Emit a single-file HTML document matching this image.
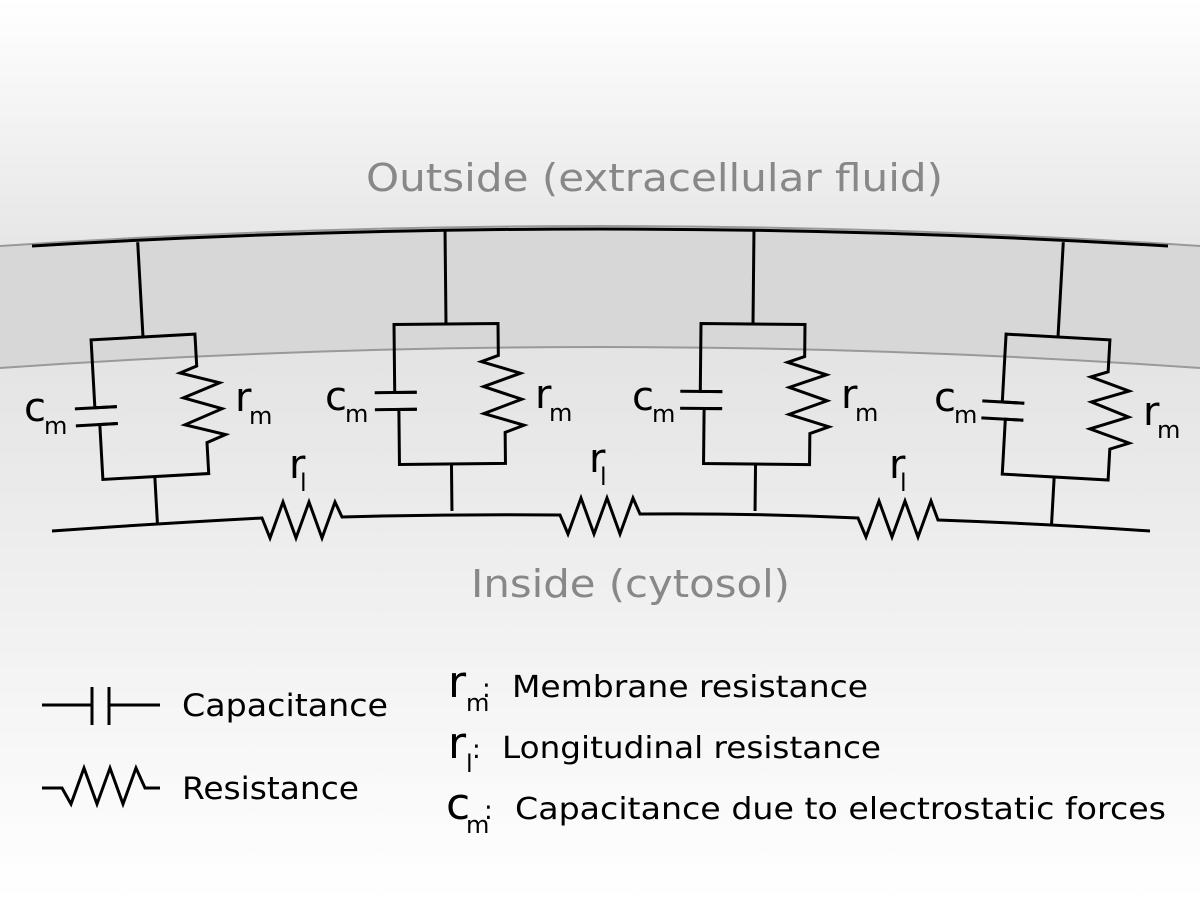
<!DOCTYPE html>
<html><head><meta charset="utf-8"><style>
html,body{margin:0;padding:0;width:1200px;height:900px;overflow:hidden;background:#fff}
svg{display:block}
text{font-family:"DejaVu Sans","Liberation Sans",sans-serif}
</style></head><body>
<svg width="1200" height="900" viewBox="0 0 1200 900" xmlns="http://www.w3.org/2000/svg">
<defs>
<linearGradient id="top" x1="0" y1="0" x2="0" y2="1">
<stop offset="0" stop-color="#ffffff"/><stop offset="1" stop-color="#e6e6e6"/></linearGradient>
<linearGradient id="bot" x1="0" y1="0" x2="0" y2="1">
<stop offset="0" stop-color="#e3e3e3"/><stop offset="1" stop-color="#ffffff"/></linearGradient>
<g id="unit" fill="none" stroke="#000" stroke-width="3" stroke-linejoin="miter">
<path d="M0 -95 L0 0"/>
<path d="M-30 68 L-52 68 L-52 0 L52 0 L52 32 L35 38 L74 50 L37 63 L75 76 L37 90 L77 102 L58 109 L58 140 L-48 140 L-48 85 L-30 85"/>
<path d="M-72 68 L-30 68 M-72 85 L-30 85"/>
<path d="M4 140 L4 187"/>
</g>
</defs>
<rect x="0" y="0" width="1200" height="250" fill="url(#top)"/>
<rect x="0" y="340" width="1200" height="560" fill="url(#bot)"/>
<path d="M0 246 Q600 206 1200 246 L1200 368 Q600 326 0 368 Z" fill="#d7d7d7"/>
<path d="M0 246 Q600 206 1200 246" fill="none" stroke="#999" stroke-width="2"/>
<path d="M0 368 Q600 326 1200 368" fill="none" stroke="#999" stroke-width="2"/>
<path d="M32 246 Q600 212 1168 246" fill="none" stroke="#000" stroke-width="3"/>
<path d="M52 531 Q150 524 262 518 L270 538 L283 502 L296 538 L309 502 L322 538 L335 502 L342 517 Q450 514 560 515 L568 534 L581 498 L594 534 L607 498 L620 534 L633 498 L640 514 Q750 513 858 518 L866 537 L879 501 L892 537 L905 501 L918 537 L931 501 L938 520 Q1050 524 1150 531" fill="none" stroke="#000" stroke-width="3"/>
<use href="#unit" transform="translate(143,337) rotate(-3.2)"/>
<use href="#unit" transform="translate(446,324) rotate(-0.6)"/>
<use href="#unit" transform="translate(753,324) rotate(0.6)"/>
<use href="#unit" transform="translate(1058,337) rotate(3.2)"/>
<g font-size="40" fill="#000">
<text x="24" y="421">c</text><text x="44" y="434" font-size="24">m</text>
<text x="235" y="411">r</text><text x="249" y="424" font-size="24">m</text>
<text x="325" y="410">c</text><text x="345" y="422" font-size="24">m</text>
<text x="535" y="408">r</text><text x="549" y="421" font-size="24">m</text>
<text x="632" y="410">c</text><text x="652" y="422" font-size="24">m</text>
<text x="841" y="408">r</text><text x="855" y="421" font-size="24">m</text>
<text x="934" y="411">c</text><text x="954" y="423" font-size="24">m</text>
<text x="1143" y="425">r</text><text x="1157" y="438" font-size="24">m</text>
<text x="289" y="478">r</text><text x="300" y="491" font-size="24">l</text>
<text x="589" y="472">r</text><text x="600" y="485" font-size="24">l</text>
<text x="889" y="478">r</text><text x="900" y="491" font-size="24">l</text>
</g>
<text x="366" y="191" font-size="38" fill="#888" textLength="577" lengthAdjust="spacingAndGlyphs">Outside (extracellular fluid)</text>
<text x="471" y="597" font-size="38" fill="#888" textLength="319" lengthAdjust="spacingAndGlyphs">Inside (cytosol)</text>
<g fill="none" stroke="#000" stroke-width="3">
<path d="M42 705 L92 705 M92 687 L92 725 M109 687 L109 725 M109 705 L160 705"/>
<path d="M42 788 L62 788 L71 804 L84 768 L97 804 L110 768 L123 804 L136 768 L145 788 L160 788"/>
</g>
<g font-size="31" fill="#000">
<text x="182" y="716" textLength="206" lengthAdjust="spacingAndGlyphs">Capacitance</text>
<text x="182" y="799" textLength="177" lengthAdjust="spacingAndGlyphs">Resistance</text>
<text x="448" y="697" font-size="44">r</text><text x="466" y="711" font-size="24">m</text><text x="482" y="697" font-size="26">:</text>
<text x="512" y="697" font-size="30" textLength="356" lengthAdjust="spacingAndGlyphs">Membrane resistance</text>
<text x="448" y="758" font-size="44">r</text><text x="466" y="772" font-size="24">l</text><text x="472" y="758" font-size="26">:</text>
<text x="502" y="758" font-size="30" textLength="379" lengthAdjust="spacingAndGlyphs">Longitudinal resistance</text>
<text x="446" y="819" font-size="44">c</text><text x="466" y="833" font-size="24">m</text><text x="484" y="819" font-size="26">:</text>
<text x="515" y="819" font-size="30" textLength="651" lengthAdjust="spacingAndGlyphs">Capacitance due to electrostatic forces</text>
</g>
</svg>
</body></html>
